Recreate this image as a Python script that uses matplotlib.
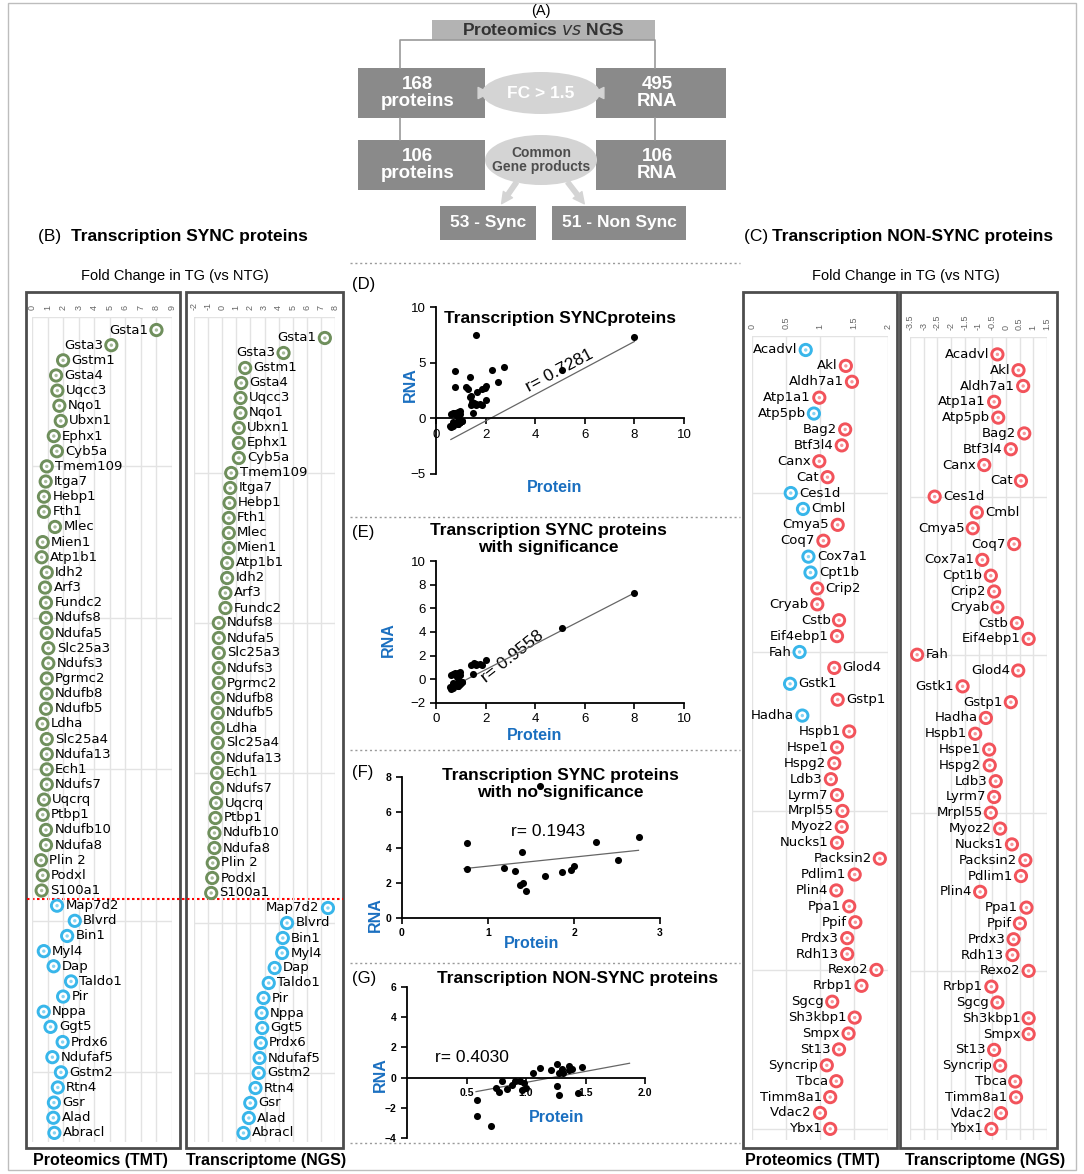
import matplotlib
matplotlib.use("Agg")
import matplotlib.pyplot as plt
import matplotlib.ticker as mticker
import numpy as np
from matplotlib import font_manager
from matplotlib.patches import Rectangle, Ellipse, FancyArrowPatch

W, H = 1084, 1174

# ---- data: transcription SYNC proteins (panel B, also D/E/F) ----
sync_genes = ["Gsta1", "Gsta3", "Gstm1", "Gsta4", "Uqcc3", "Nqo1", "Ubxn1", "Ephx1", "Cyb5a",
              "Tmem109", "Itga7", "Hebp1", "Fth1", "Mlec", "Mien1", "Atp1b1", "Idh2", "Arf3",
              "Fundc2", "Ndufs8", "Ndufa5", "Slc25a3", "Ndufs3", "Pgrmc2", "Ndufb8", "Ndufb5",
              "Ldha", "Slc25a4", "Ndufa13", "Ech1", "Ndufs7", "Uqcrq", "Ptbp1", "Ndufb10",
              "Ndufa8", "Plin 2", "Podxl", "S100a1",
              "Map7d2", "Blvrd", "Bin1", "Myl4", "Dap", "Taldo1", "Pir", "Nppa", "Ggt5", "Prdx6",
              "Ndufaf5", "Gstm2", "Rtn4", "Gsr", "Alad", "Abracl"]
sync_prot = [8.0, 5.1, 2.0, 1.55, 1.63, 1.76, 1.85, 1.4, 1.6,
             0.95, 0.88, 0.77, 0.77, 1.48, 0.69, 0.62, 0.95, 0.84,
             0.9, 0.9, 0.95, 1.05, 1.05, 0.95, 0.95, 0.9,
             0.67, 0.95, 0.95, 0.95, 0.95, 0.77, 0.69, 0.9,
             0.9, 0.58, 0.69, 0.62,
             1.61, 2.75, 2.26, 0.76, 1.39, 2.51, 2.0, 0.755, 1.19, 1.97,
             1.31, 1.86, 1.66, 1.41, 1.37, 1.44]
sync_rna = [7.28, 4.35, 1.63, 1.35, 1.3, 1.3, 1.18, 1.18, 1.18,
            0.64, 0.57, 0.52, 0.47, 0.47, 0.47, 0.35, 0.35, 0.23,
            0.23, -0.24, -0.24, -0.24, -0.24, -0.24, -0.31, -0.31,
            -0.31, -0.31, -0.31, -0.36, -0.36, -0.43, -0.48, -0.55,
            -0.55, -0.67, -0.71, -0.78,
            7.5, 4.6, 4.3, 4.25, 3.72, 3.3, 2.93, 2.8, 2.84, 2.74,
            2.65, 2.59, 2.36, 1.99, 1.89, 1.51]
sync_signif = ["yes"] * 38 + ["no"] * 16

# ---- data: transcription NON-SYNC proteins (panel C) ----
nonsync_genes = ["Acadvl", "Akl", "Aldh7a1", "Atp1a1", "Atp5pb", "Bag2", "Btf3l4", "Canx", "Cat",
                 "Ces1d", "Cmbl", "Cmya5", "Coq7", "Cox7a1", "Cpt1b", "Crip2", "Cryab", "Cstb",
                 "Eif4ebp1", "Fah", "Glod4", "Gstk1", "Gstp1", "Hadha", "Hspb1", "Hspe1", "Hspg2",
                 "Ldb3", "Lyrm7", "Mrpl55", "Myoz2", "Nucks1", "Packsin2", "Pdlim1", "Plin4",
                 "Ppa1", "Ppif", "Prdx3", "Rdh13", "Rexo2", "Rrbp1", "Sgcg", "Sh3kbp1", "Smpx",
                 "St13", "Syncrip", "Tbca", "Timm8a1", "Vdac2", "Ybx1"]
nonsync_prot = [0.79, 1.38, 1.47, 0.99, 0.91, 1.37, 1.32, 0.99, 1.11,
                0.57, 0.75, 1.26, 1.05, 0.83, 0.86, 0.96, 0.96, 1.28,
                1.25, 0.70, 1.21, 0.56, 1.26, 0.74, 1.43, 1.25, 1.21,
                1.16, 1.25, 1.33, 1.32, 1.25, 1.88, 1.51, 1.24,
                1.43, 1.52, 1.40, 1.40, 1.83, 1.61, 1.18, 1.51, 1.42,
                1.28, 1.10, 1.24, 1.15, 1.0, 1.15]
nonsync_rna = [-0.31, 0.46, 0.63, -0.43, -0.28, 0.67, 0.18, -0.79, 0.55,
               -2.6, -1.06, -1.21, 0.30, -0.86, -0.55, -0.43, -0.31, 0.40,
               0.83, -3.24, 0.45, -1.58, 0.18, -0.73, -1.12, -0.61, -0.59,
               -0.37, -0.43, -0.55, -0.21, 0.22, 0.71, 0.55, -0.94,
               0.75, 0.51, 0.28, 0.24, 0.83, -0.53, -0.31, 0.83, 0.83,
               -0.43, -0.21, 0.34, 0.37, -0.18, -0.53]
nonsync_prot_down = ["Acadvl", "Atp5pb", "Ces1d", "Cmbl", "Cox7a1", "Cpt1b", "Fah", "Gstk1", "Hadha"]

# ---- data: panel G scatter as plotted ----
g_prot = [0.59, 0.59, 0.71, 0.75, 0.77, 0.80, 0.84, 0.88, 0.91, 0.95, 0.98, 1.0, 0.97,
          1.06, 1.12, 1.21, 1.26, 1.26, 1.28, 1.28, 1.30, 1.31, 1.36, 1.36, 1.39, 1.47, 1.44]
g_rna = [-1.48, -2.52, -3.18, -0.66, -0.97, -0.22, -0.77, -0.48, -0.22, -0.22, -0.37, -0.66, -0.85,
         0.33, 0.62, 0.51, 0.91, -0.53, -1.15, 0.33, 0.56, 0.29, 0.51, 0.77, 0.56, 0.73, -0.99]

# fitted lines as drawn in panels D-G (start/end protein, start/end RNA)
fit_x = [[0.6, 8.0], [0.5, 8.0], [0.72, 2.75], [0.58, 1.87]]
fit_y = [[-1.9, 6.9], [-0.8, 7.3], [2.8, 3.84], [-0.93, 0.95]]
r_values = ["r= 0.7281", "r= 0.9558", "r= 0.1943", "r= 0.4030"]

GREEN = "#6f8f5c"
BLUE = "#38b6ea"
RED = "#f2535b"
AXBLUE = "#1a6fc0"

names = {f.name for f in font_manager.fontManager.ttflist}
NARROW = "Liberation Sans Narrow" if "Liberation Sans Narrow" in names else "DejaVu Sans"
SANS = "Liberation Sans" if "Liberation Sans" in names else "DejaVu Sans"
plt.rcParams["font.family"] = [SANS, "DejaVu Sans"]

fig = plt.figure(figsize=(W / 100, H / 100), dpi=100)
bg = fig.add_axes([0, 0, 1, 1])
bg.set_xlim(0, W)
bg.set_ylim(H, 0)
bg.axis("off")


def px_axes(x0, y0, x1, y1):
    return fig.add_axes([x0 / W, 1 - y1 / H, (x1 - x0) / W, (y1 - y0) / H])


def box(x0, y0, x1, y1, **kw):
    bg.add_patch(Rectangle((x0, y0), x1 - x0, y1 - y0, **kw))


# ---- outer frame ----
box(8, 3, 1076, 1170, fill=False, ec="#bdbdbd", lw=1)

# ---- (A) flowchart ----
bg.text(541, 11, "(A)", ha="center", va="center", fontsize=10.5)
box(432, 20, 655, 40, fc="#b3b3b3", ec="none")
bg.text(543, 30, "Proteomics $\\mathit{vs}$ NGS", ha="center", va="center", fontsize=12.5,
        fontweight="bold", color="#333333")
bg.plot([400, 400, 655, 655], [68, 40, 40, 68], color="#9a9a9a", lw=1.2)
for x0, x1, y0, y1, t in [(358, 485, 68, 118, "168\nproteins"), (596, 726, 68, 118, "495\nRNA"),
                          (358, 485, 140, 190, "106\nproteins"), (596, 726, 140, 190, "106\nRNA")]:
    box(x0, y0, x1, y1, fc="#8a8a8a", ec="none")
    bg.text(x0 + 0.47 * (x1 - x0), (y0 + y1) / 2, t, ha="center", va="center", fontsize=13.5,
            fontweight="bold", color="white", linespacing=1.0)
bg.plot([400, 400], [118, 140], color="#9a9a9a", lw=1.2)
bg.plot([655, 655], [118, 140], color="#9a9a9a", lw=1.2)
bg.add_patch(Ellipse((541, 93), 118, 42, fc="#d4d4d4", ec="none"))
bg.text(541, 93, "FC > 1.5", ha="center", va="center", fontsize=12.5, fontweight="bold", color="white")
bg.add_patch(FancyArrowPatch((478, 93), (492, 93), arrowstyle="simple", mutation_scale=16, color="#d4d4d4"))
bg.add_patch(FancyArrowPatch((604, 93), (590, 93), arrowstyle="simple", mutation_scale=16, color="#d4d4d4"))
bg.add_patch(Ellipse((541, 160), 112, 50, fc="#d4d4d4", ec="none"))
bg.text(541, 160, "Common\nGene products", ha="center", va="center", fontsize=10,
        fontweight="bold", color="#4d4d4d", linespacing=1.05)
bg.add_patch(FancyArrowPatch((518, 180), (500, 206), arrowstyle="simple", mutation_scale=16, color="#d4d4d4"))
bg.add_patch(FancyArrowPatch((566, 180), (586, 206), arrowstyle="simple", mutation_scale=16, color="#d4d4d4"))
box(440, 206, 536, 240, fc="#8a8a8a", ec="none")
bg.text(488, 223, "53 - Sync", ha="center", va="center", fontsize=12.5, fontweight="bold", color="white")
box(552, 206, 686, 240, fc="#8a8a8a", ec="none")
bg.text(619, 223, "51 - Non Sync", ha="center", va="center", fontsize=12.5, fontweight="bold", color="white")

# ---- panel headers ----
bg.text(38, 237, "(B) ", ha="left", va="center", fontsize=12.5)
bg.text(71, 237, "Transcription SYNC proteins", ha="left", va="center", fontsize=12.5, fontweight="bold")
bg.text(744, 237, "(C) ", ha="left", va="center", fontsize=12.5)
bg.text(772, 237, "Transcription NON-SYNC proteins", ha="left", va="center", fontsize=12.5,
        fontweight="bold")
bg.text(175, 276, "Fold Change in TG (vs NTG)", ha="center", va="center", fontsize=10.5)
bg.text(906, 276, "Fold Change in TG (vs NTG)", ha="center", va="center", fontsize=10.5)
for x, t in [(100, "Proteomics (TMT)"), (266, "Transcriptome (NGS)"),
             (812, "Proteomics (TMT)"), (985, "Transcriptome (NGS)")]:
    bg.text(x, 1160, t, ha="center", va="center", fontsize=11.5, fontweight="bold")

# column frames
for x0, x1 in [(26, 180), (186, 343), (743, 897), (900, 1057)]:
    box(x0, 292, x1, 1148, fill=False, ec="#4d4d4d", lw=2)


def dot_column(rect, vals, genes, colors, xlim, ticks, ticklabels, flip_labels, row_pad,
               default_left):
    ax = px_axes(*rect)
    n = len(vals)
    ax.set_xlim(*xlim)
    ax.set_ylim(n - 1 + row_pad[1], -row_pad[0])
    for sp in ax.spines.values():
        sp.set_visible(False)
    ax.patch.set_alpha(0)
    ax.xaxis.tick_top()
    ax.set_xticks(ticks)
    ax.set_xticklabels(ticklabels, rotation=90, fontsize=6.5, color="#666666")
    ax.tick_params(axis="x", length=0, pad=5)
    ax.set_yticks([])
    ax.grid(axis="x", color="#e3e3e3", lw=1)
    for r in [-row_pad[0], 9, 19, 29, 39, 49]:
        ax.axhline(r, color="#e3e3e3", lw=1)
    ys = np.arange(n)
    ax.scatter(vals, ys, s=66, facecolor="white", edgecolor=colors, linewidth=2.1, zorder=3)
    ax.scatter(vals, ys, s=6, color=colors, alpha=0.6, zorder=4, linewidth=0)
    for v, y, g in zip(vals, ys, genes):
        left = default_left != (g in flip_labels)
        ax.annotate(g, (v, y), xytext=(-6 if left else 6, 0), textcoords="offset points",
                    ha="right" if left else "left", va="center", fontsize=9.5, family=NARROW,
                    zorder=5)
    return ax


sync_colors = [GREEN if s == "yes" else BLUE for s in sync_signif]
dot_column((32, 317, 172, 1142), sync_prot, sync_genes, sync_colors, (0, 9), range(10),
           [str(i) for i in range(10)], ("Gsta1", "Gsta3"), (0.86, 0.6), False)
dot_column((194, 317, 335, 1142), sync_rna, sync_genes, sync_colors, (-2, 8), range(-2, 9),
           [str(i) for i in range(-2, 9)], ("Gsta1", "Gsta3", "Map7d2"), (1.4, 0.6), False)
bg.plot([27, 343], [899, 899], color="red", lw=1.5, ls=(0, (1.2, 1.2)))

ns_colors_prot = [BLUE if g in nonsync_prot_down else RED for g in nonsync_genes]
dot_column((752, 336, 888, 1140), nonsync_prot, nonsync_genes, ns_colors_prot, (0, 2),
           [0, 0.5, 1, 1.5, 2], ["0", "0.5", "1", "1.5", "2"],
           ("Ces1d", "Cmbl", "Cox7a1", "Cpt1b", "Crip2", "Glod4", "Gstk1", "Gstp1"), (0.88, 0.7), True)
ticks_c = np.arange(-3.5, 1.51, 0.5)
dot_column((910, 337, 1047, 1140), nonsync_rna, nonsync_genes, [RED] * len(nonsync_rna), (-3.5, 1.5),
           ticks_c, ["%g" % t for t in ticks_c], ("Ces1d", "Cmbl", "Fah"), (1.1, 0.7), True)

# ---- center scatter panels ----
for y in [263, 517, 750, 963, 1143]:
    bg.plot([350, 740], [y, y], color="#9a9a9a", lw=1, ls=(0, (1.5, 2)))


def scatter_panel(rect, x, y, k, xlim, ylim, xticks, yticks, title, title_xy, rpos, rrot,
                  xlab_pos, ylab_pos, zero_x=True, small=False):
    ax = px_axes(*rect)
    ax.set_xlim(*xlim)
    ax.set_ylim(*ylim)
    ax.patch.set_alpha(0)
    ax.spines["top"].set_visible(False)
    ax.spines["right"].set_visible(False)
    for s in ("left", "bottom"):
        ax.spines[s].set_linewidth(1.3)
    if zero_x:
        ax.spines["bottom"].set_position(("data", 0))
    ax.set_xticks(xticks)
    ax.set_yticks(yticks)
    ax.tick_params(length=4, width=1.2, labelsize=7.5 if small else 9.5)
    if small:
        for lab in ax.get_xticklabels() + ax.get_yticklabels():
            lab.set_fontweight("bold")
    ax.scatter(x, y, s=26, color="black", zorder=3, linewidth=0)
    ax.plot(fit_x[k], fit_y[k], color="#666666", lw=0.9)
    bg.text(*title_xy, title, ha="center", va="center", fontsize=12.5, fontweight="bold",
            linespacing=1.1)
    bg.text(*rpos, r_values[k], ha="center", va="center", fontsize=12.5, rotation=rrot)
    bg.text(*xlab_pos, "Protein", ha="center", va="center", fontsize=11.5, fontweight="bold",
            color=AXBLUE)
    bg.text(*ylab_pos, "RNA", ha="center", va="center", fontsize=11.5, fontweight="bold",
            color=AXBLUE, rotation=90)
    return ax


bg.text(352, 284, "(D)", ha="left", va="center", fontsize=12)
scatter_panel((436, 307, 684, 474), sync_prot, sync_rna, 0, (0, 10), (-5, 10), range(0, 11, 2),
              [-5, 0, 5, 10], "Transcription SYNCproteins", (560, 318),
              (560, 371), 28, (555, 488), (410, 385))
bg.text(352, 533, "(E)", ha="left", va="center", fontsize=12)
sig_x = [p for p, s in zip(sync_prot, sync_signif) if s == "yes"]
sig_y = [r for r, s in zip(sync_rna, sync_signif) if s == "yes"]
scatter_panel((436, 561, 684, 703), sig_x, sig_y, 1, (0, 10), (-2, 10), range(0, 11, 2),
              range(-2, 11, 2), "Transcription SYNC proteins\nwith significance", (548, 539),
              (512, 657), 38, (535, 735), (388, 640), zero_x=False)
bg.text(352, 773, "(F)", ha="left", va="center", fontsize=12)
ns_x = [p for p, s in zip(sync_prot, sync_signif) if s == "no"]
ns_y = [r for r, s in zip(sync_rna, sync_signif) if s == "no"]
scatter_panel((402, 777, 660, 918), ns_x, ns_y, 2, (0, 3), (0, 8), [0, 1, 2, 3],
              [0, 2, 4, 6, 8], "Transcription SYNC proteins\nwith no significance", (560, 784),
              (548, 831), 0, (532, 943), (375, 915), small=True)
bg.text(352, 979, "(G)", ha="left", va="center", fontsize=12)
ax_g = scatter_panel((407, 987, 645, 1138), g_prot, g_rna, 3, (0, 2), (-4, 6),
                     [0.5, 1.0, 1.5, 2.0], [-4, -2, 0, 2, 4, 6], "Transcription NON-SYNC proteins",
                     (578, 979), (472, 1058), 0, (557, 1117), (380, 1075), small=True)
ax_g.xaxis.set_major_formatter(mticker.FormatStrFormatter("%.1f"))
for lab in ax_g.get_xticklabels():
    lab.set_fontweight("bold")

fig.savefig("out.png", dpi=100)
